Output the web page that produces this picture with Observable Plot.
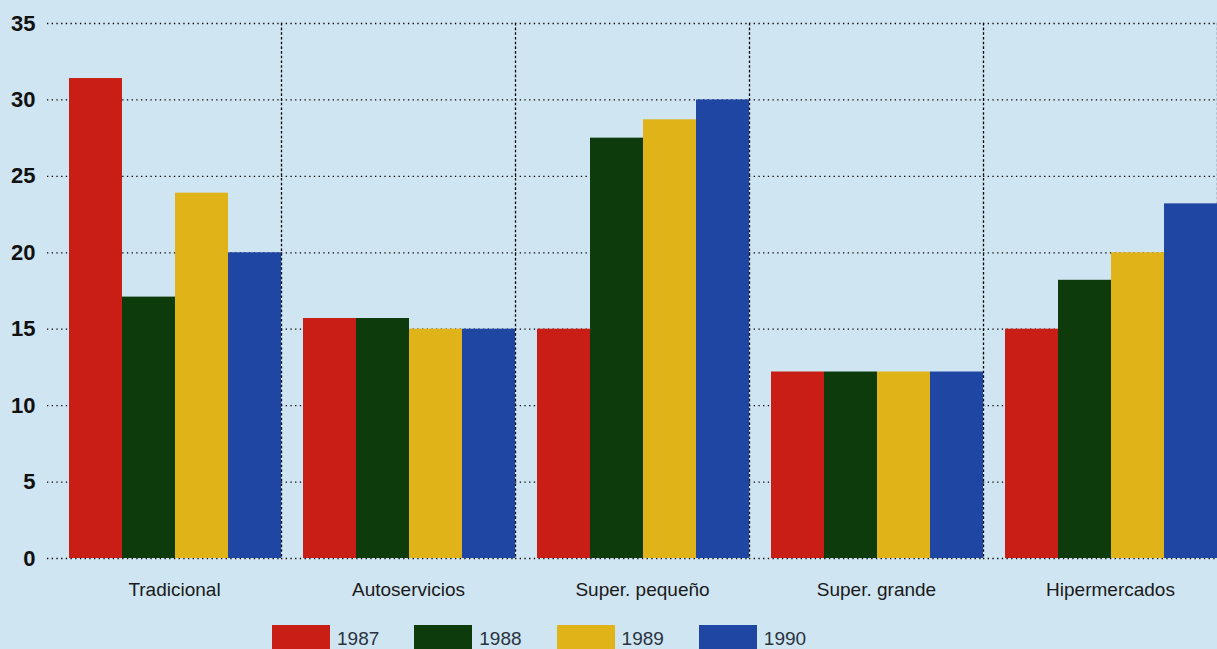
<!DOCTYPE html>
<html><head><meta charset="utf-8">
<script src="https://cdn.jsdelivr.net/npm/d3@7"></script>
<script src="https://cdn.jsdelivr.net/npm/@observablehq/plot@0.6"></script>
<style>
html,body{margin:0;padding:0;background:#cfe5f2;}
#chart{width:1217px;height:649px;overflow:hidden;font-family:"Liberation Sans",Arial,Helvetica,sans-serif;}
#chart svg{display:block;}
</style></head><body><div id="chart"></div>
<script>
const categories = ["Tradicional", "Autoservicios", "Super. pequeño", "Super. grande", "Hipermercados"];
const years = ["1987", "1988", "1989", "1990"];
const v1987 = [31.4, 15.7, 15.0, 12.2, 15.0];
const v1988 = [17.1, 15.7, 27.5, 12.2, 18.2];
const v1989 = [23.9, 15.0, 28.7, 12.2, 20.0];
const v1990 = [20.0, 15.0, 30.0, 12.2, 23.2];
const colors = ["#c81e16", "#0d3b0c", "#e0b418", "#1f46a2"];
const yTicks = [0, 5, 10, 15, 20, 25, 30, 35];

const series = [v1987, v1988, v1989, v1990];
const data = categories.flatMap((c, i) => years.map((y, j) => ({category: c, year: y, value: series[j][i]})));

const dotted = {stroke: "#000", strokeOpacity: 1, strokeWidth: 1.3, strokeDasharray: "1.3,3.4"};

const plot = Plot.plot({
  width: 1217,
  height: 612,
  marginLeft: 47,
  marginRight: 0,
  marginTop: 23,
  marginBottom: 54,
  style: {background: "transparent", fontFamily: "'Liberation Sans', Arial, Helvetica, sans-serif", color: "#111", overflow: "visible"},
  fx: {domain: categories, padding: 0, label: null},
  x: {domain: years, paddingInner: 0, paddingOuter: 0.2035, align: 1, axis: null},
  y: {domain: [0, 35], axis: null, label: null},
  color: {domain: years, range: colors},
  marks: [
    Plot.gridY(yTicks, dotted),
    Plot.frame({anchor: "right", ...dotted}),
    Plot.barY(data, {fx: "category", x: "year", y: "value", fill: "year"}),
    Plot.axisY(yTicks, {tickSize: 0, tickPadding: 12, fontSize: 22, fontWeight: "bold", label: null, fill: "#111"}),
    Plot.axisFx({anchor: "bottom", tickSize: 0, tickPadding: 24, fontSize: 19, dx: 10, label: null, fill: "#1a1a1a"})
  ]
});

const chart = d3.select("#chart");
chart.node().append(plot);

const legend = chart.append("div")
  .style("display", "flex")
  .style("height", "37px")
  .style("padding-left", "272px")
  .style("box-sizing", "border-box");
years.forEach((y, j) => {
  const item = legend.append("div")
    .style("display", "flex")
    .style("align-items", "flex-start")
    .style("margin-top", "13px")
    .style("margin-right", "35px");
  item.append("div")
    .style("width", "58px")
    .style("height", "24px")
    .style("background", colors[j]);
  item.append("div")
    .style("margin-left", "7px")
    .style("font-size", "19px")
    .style("line-height", "24px")
    .style("padding-top", "2px")
    .style("color", "#2a3340")
    .text(y);
});
</script>
</body></html>
